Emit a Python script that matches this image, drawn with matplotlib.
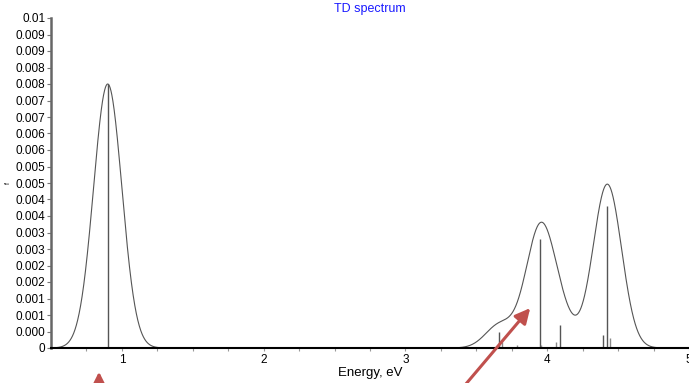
"""
TD spectrum: oscillator-strength sticks with Gaussian broadening.
Output: out.png (689x383)
"""

import matplotlib.pyplot as plt
import numpy as np

plt.rcParams["font.family"] = ["Liberation Sans", "DejaVu Sans"]

# --- data ---
stick_energy = [0.90, 3.657, 3.678, 3.784, 3.946, 3.956, 4.061, 4.087, 4.392, 4.425, 4.446]
stick_f = [0.0080, 0.00049, 0.00019, 0.00009, 0.00330, 0.00009, 0.00019, 0.00070, 0.00039, 0.00430, 0.00030]
broadening_sigma = 0.10  # eV, gaussian width used for the envelope

y_ticks = [i * 0.0005 for i in range(21)]
y_tick_labels = ["0", "0.000", "0.001", "0.001", "0.002", "0.002", "0.003", "0.003",
                 "0.004", "0.004", "0.005", "0.005", "0.006", "0.006", "0.007", "0.007",
                 "0.008", "0.008", "0.009", "0.009", "0.01"]
x_major = [1, 2, 3, 4, 5]

# envelope = sum of gaussians centred on the sticks
energy = np.linspace(0.5, 5.0, 3000)
spectrum = np.zeros_like(energy)
for e0, f in zip(stick_energy, stick_f):
    spectrum += f * np.exp(-(energy - e0) ** 2 / (2 * broadening_sigma ** 2))

fig = plt.figure(figsize=(6.89, 3.83), dpi=100)
ax = fig.add_axes([51 / 689, 35 / 383, 638 / 689, 330 / 383])

ax.plot(energy, spectrum, color="#555555", lw=0.8)
stick_colors = ["#555555" if f > 0.0003 else "#8a8a8a" for f in stick_f]
ax.vlines(stick_energy, 0, stick_f, colors=stick_colors, lw=1.0)

ax.set_xlim(0.5, 4.983)
ax.set_ylim(0, 0.01)
ax.set_yticks(y_ticks)
ax.set_yticklabels(y_tick_labels, fontsize=8.5)
ax.set_xticks(x_major)
ax.set_xticklabels([str(v) for v in x_major], fontsize=8.5)
ax.set_xticks(np.arange(0.75, 5.0, 0.25), minor=True)
ax.tick_params(axis="y", direction="out", length=3, width=0.8, color="#777777", pad=1)
ax.tick_params(axis="x", which="both", direction="out", length=2, width=0.8, color="#999999", pad=2)

for side in ["top", "right"]:
    ax.spines[side].set_visible(False)
ax.spines["left"].set_color("#666666")
ax.spines["left"].set_linewidth(1.8)
ax.spines["bottom"].set_color("black")
ax.spines["bottom"].set_linewidth(1.5)

ax.set_title("TD spectrum", color="#1a1aff", fontsize=9, pad=4)
ax.set_xlabel("Energy, eV", fontsize=9.5, labelpad=1)
fig.text(8 / 689, 1 - 183 / 383, "f", fontsize=5, rotation=90, ha="center", va="center")

# red annotation arrows
arrow_kw = dict(arrowstyle="-|>,head_width=0.45,head_length=0.9", color="#c0504d", lw=2.2)
ax.annotate("", xy=(99, 14), xytext=(99, -30), xycoords="figure pixels",
            textcoords="figure pixels", arrowprops=arrow_kw, annotation_clip=False)
ax.annotate("", xy=(532, 77), xytext=(460, -8), xycoords="figure pixels",
            textcoords="figure pixels", arrowprops=arrow_kw, annotation_clip=False)

fig.savefig("out.png", dpi=100)
